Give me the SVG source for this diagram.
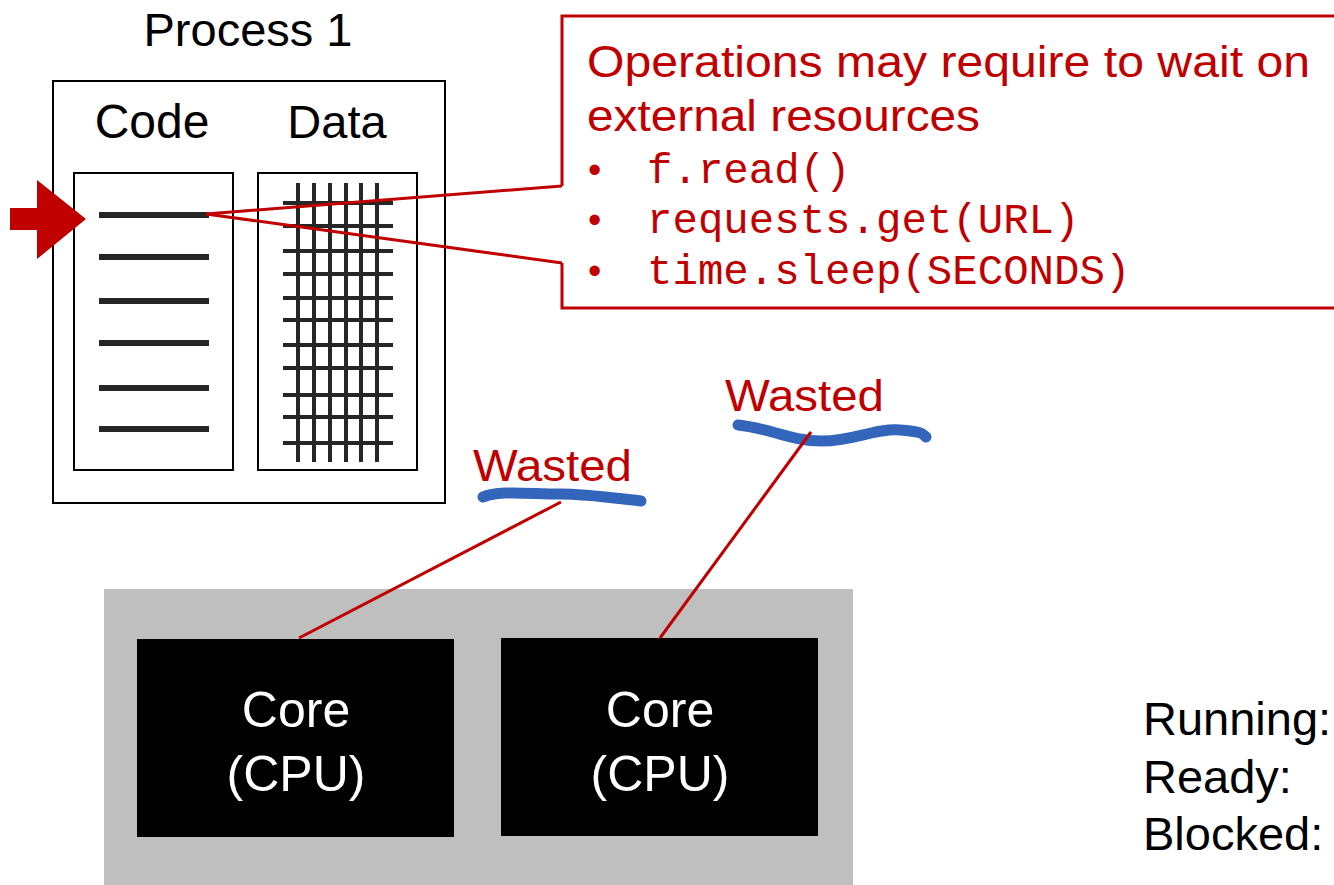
<svg xmlns="http://www.w3.org/2000/svg" width="1334" height="885" viewBox="0 0 1334 885">
  <style>
    .sans { font-family: "Liberation Sans", Arial, sans-serif; }
    .mono { font-family: "Liberation Mono", "Courier New", monospace; }
    .red { fill: #c00000; }
    .box { fill: #ffffff; stroke: #000000; stroke-width: 2; }
    .codeline { stroke: #262626; stroke-width: 6; }
    .grid { stroke: #262626; stroke-width: 4; }
    .link { stroke: #c00000; stroke-width: 3; fill: none; }
    .scribble { stroke: #3366bb; stroke-width: 11; fill: none; stroke-linecap: round; stroke-linejoin: round; }
    .core { fill: #000000; }
    .coretext { fill: #ffffff; font-size: 50px; text-anchor: middle; }
  </style>

  <rect x="0" y="0" width="1334" height="885" fill="#ffffff"/>

  <!-- Process with code and data segments -->
  <g id="process1">
    <text class="sans" x="248" y="46" font-size="47" text-anchor="middle">Process 1</text>
    <rect class="box" x="53" y="81" width="392" height="422"/>
    <text class="sans" x="152" y="138" font-size="48" text-anchor="middle">Code</text>
    <text class="sans" x="337" y="138" font-size="47" text-anchor="middle">Data</text>
  </g>

  <g id="code">
    <rect class="box" x="74" y="173" width="159" height="297"/>
    <g class="codeline">
      <line x1="99" y1="215" x2="209" y2="215"/>
      <line x1="99" y1="257" x2="209" y2="257"/>
      <line x1="99" y1="301" x2="209" y2="301"/>
      <line x1="99" y1="343" x2="209" y2="343"/>
      <line x1="99" y1="388" x2="209" y2="388"/>
      <line x1="99" y1="429" x2="209" y2="429"/>
    </g>
  </g>

  <g id="data">
    <rect class="box" x="258" y="173" width="159" height="297"/>
    <g class="grid">
      <line x1="298" y1="183" x2="298" y2="462"/>
      <line x1="314" y1="183" x2="314" y2="462"/>
      <line x1="330" y1="183" x2="330" y2="462"/>
      <line x1="346" y1="183" x2="346" y2="462"/>
      <line x1="361" y1="183" x2="361" y2="462"/>
      <line x1="377" y1="183" x2="377" y2="462"/>
      <line x1="283" y1="203" x2="393" y2="203"/>
      <line x1="283" y1="226" x2="393" y2="226"/>
      <line x1="283" y1="251" x2="393" y2="251"/>
      <line x1="283" y1="274" x2="393" y2="274"/>
      <line x1="283" y1="298" x2="393" y2="298"/>
      <line x1="283" y1="320" x2="393" y2="320"/>
      <line x1="283" y1="345" x2="393" y2="345"/>
      <line x1="283" y1="368" x2="393" y2="368"/>
      <line x1="283" y1="395" x2="393" y2="395"/>
      <line x1="283" y1="417" x2="393" y2="417"/>
      <line x1="283" y1="443" x2="393" y2="443"/>
    </g>
  </g>

  <!-- Instruction pointer -->
  <g id="pointer">
    <polygon class="red" points="10,208 37,208 37,180 86,219 37,259 37,230 10,230"/>
  </g>

  <!-- Callout about blocking operations -->
  <g id="callout">
    <path class="link" d="M562 186 L562 16 L1340 16 L1340 308 L562 308 L562 263"/>
    <text class="sans red" x="587" y="77" font-size="45" textLength="723" lengthAdjust="spacingAndGlyphs">Operations may require to wait on</text>
    <text class="sans red" x="587" y="131" font-size="45" textLength="393" lengthAdjust="spacingAndGlyphs">external resources</text>
    <text class="sans red" x="588" y="183" font-size="38">•</text>
    <text class="sans red" x="588" y="233" font-size="38">•</text>
    <text class="sans red" x="588" y="284" font-size="38">•</text>
    <text class="mono red" x="647" y="183" font-size="42.4">f.read()</text>
    <text class="mono red" x="647" y="233" font-size="42.4">requests.get(URL)</text>
    <text class="mono red" x="647" y="284" font-size="42.4">time.sleep(SECONDS)</text>
  </g>

  <!-- Idle-time annotations -->
  <g id="wasted1">
    <text class="sans red" x="473" y="481" font-size="45" textLength="159" lengthAdjust="spacingAndGlyphs">Wasted</text>
    <path class="scribble" d="M483 497 C498 490 530 494 560 494 S620 499 641 501"/>
  </g>
  <g id="wasted2">
    <text class="sans red" x="725" y="411" font-size="45" textLength="159" lengthAdjust="spacingAndGlyphs">Wasted</text>
    <path class="scribble" d="M738 425 C770 428 790 441 822 441 S875 428 900 430 S922 434 926 437"/>
  </g>

  <!-- CPU package with two cores -->
  <g id="cpu">
    <rect x="104" y="589" width="749" height="296" fill="#bfbfbf"/>
  </g>
  <g id="core1">
    <rect class="core" x="137" y="639" width="317" height="198"/>
    <text class="sans coretext" x="296" y="727">Core</text>
    <text class="sans coretext" x="296" y="791">(CPU)</text>
  </g>
  <g id="core2">
    <rect class="core" x="501" y="638" width="317" height="198"/>
    <text class="sans coretext" x="660" y="727">Core</text>
    <text class="sans coretext" x="660" y="791">(CPU)</text>
  </g>

  <g id="connectors">
    <line class="link" x1="206" y1="214" x2="562" y2="186"/>
    <line class="link" x1="206" y1="214" x2="562" y2="263"/>
    <line class="link" x1="561" y1="502" x2="299" y2="638"/>
    <line class="link" x1="811" y1="432" x2="660" y2="638"/>
  </g>

  <!-- Process state list -->
  <g id="states">
    <text class="sans" x="1143" y="735" font-size="47">Running:</text>
    <text class="sans" x="1143" y="793" font-size="47">Ready:</text>
    <text class="sans" x="1143" y="850" font-size="47">Blocked:</text>
  </g>
</svg>
